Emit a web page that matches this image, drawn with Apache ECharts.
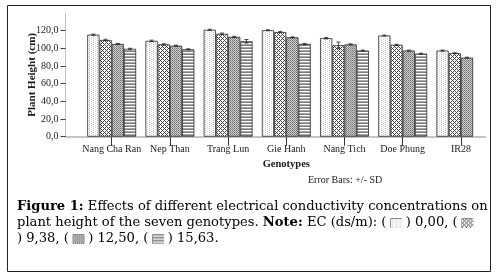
<!DOCTYPE html>
<html><head><meta charset="utf-8">
<script src="https://cdn.jsdelivr.net/npm/echarts@6/dist/echarts.min.js"></script>
<style>html,body{margin:0;padding:0;background:#fff}#c{width:499px;height:276px}</style>
</head><body><div id="c"></div>
<script>
const categories = ['Nang Cha Ran','Nep Than','Trang Lun','Gie Hanh','Nang Tich','Doe Phung','IR28'];
const ec000  = [115.5, 108.5, 121.0, 120.5, 111.5, 114.5, 97.5];
const ec938  = [109.5, 104.5, 116.5, 118.5, 103.5, 104.0, 94.5];
const ec1250 = [105.0, 103.0, 113.0, 112.5, 104.5, 97.5, 89.5];
const ec1563 = [99.5, 99.0, 108.0, 105.0, 97.5, 94.0, null];
const sd000  = [0.6, 0.8, 0.6, 0.5, 0.8, 0.5, 0.5];
const sd938  = [0.8, 0.7, 0.8, 0.7, 3.6, 0.6, 0.5];
const sd1250 = [0.5, 0.6, 0.6, 0.5, 0.6, 0.5, 0.5];
const sd1563 = [0.6, 0.5, 2.0, 0.6, 0.5, 0.5, null];
const seriesNames = ['0,00', '9,38', '12,50', '15,63'];
const yTicks = [0, 20, 40, 60, 80, 100, 120];

function makePattern(w, h, fn) {
  const c = document.createElement('canvas'); c.width = w; c.height = h;
  const ctx = c.getContext('2d');
  for (let y = 0; y < h; y++) for (let x = 0; x < w; x++) {
    ctx.fillStyle = fn(x, y); ctx.fillRect(x, y, 1, 1);
  }
  return c;
}
const pat1 = makePattern(4, 4, (x, y) => (x === 1 && y % 2 === 0) ? '#b8b8b8' : ((x === 3 && y % 2 === 1) ? '#d8d8d8' : '#ffffff'));
const pat2 = makePattern(4, 4, (x, y) => ((x + y) % 4 === 0 || (x - y + 8) % 4 === 0) ? '#444444' : '#ffffff');
const pat3 = makePattern(2, 2, (x, y) => (x === 0 && y === 0) ? '#6e6e6e' : ((x === 1 && y === 1) ? '#8c8c8c' : '#cfcfcf'));
const pat4 = makePattern(1, 3, (x, y) => y === 0 ? '#7d7d7d' : (y === 1 ? '#ffffff' : '#a8a8a8'));
const pats = [pat1, pat2, pat3, pat4];

function makeIcon(p) {
  const c = document.createElement('canvas'); c.width = 11; c.height = 9;
  const ctx = c.getContext('2d');
  ctx.fillStyle = ctx.createPattern(p, 'repeat'); ctx.fillRect(0, 0, 11, 9);
  return c;
}
const icons = pats.map(makeIcon);

const values = [ec000, ec938, ec1250, ec1563];
const sds = [sd000, sd938, sd1250, sd1563];
const GAP = 0.16;

const serif = '"Liberation Serif", "Times New Roman", serif';
const capFont = '"DejaVu Serif", serif';
const chart = echarts.init(document.getElementById('c'), null, {renderer: 'canvas'});

const barSeries = values.map((arr, i) => ({
  type: 'bar', name: seriesNames[i], xAxisIndex: 1, yAxisIndex: 1,
  data: arr, barGap: '0%', barCategoryGap: (GAP * 100) + '%',
  itemStyle: {color: {image: pats[i], repeat: 'repeat'}, borderColor: '#2a2a2a', borderWidth: 0.8},
  silent: true, animation: false
}));

const errData = [];
values.forEach((arr, i) => arr.forEach((v, j) => {
  if (v != null) errData.push([j, v - sds[i][j], v + sds[i][j], i]);
}));

const errSeries = {
  type: 'custom', xAxisIndex: 1, yAxisIndex: 1, data: errData, silent: true, animation: false, z: 10,
  renderItem: function (params, api) {
    const j = api.value(0), lo = api.value(1), hi = api.value(2), i = api.value(3);
    const band = api.size([1, 0])[0];
    const bw = band * (1 - GAP) / 4;
    const c = api.coord([j, lo]);
    const cx = c[0] + (i - 1.5) * bw;
    const yLo = c[1], yHi = api.coord([j, hi])[1];
    const cap = 2;
    const st = {stroke: '#222', lineWidth: 0.8};
    return {type: 'group', children: [
      {type: 'line', shape: {x1: cx, y1: yLo, x2: cx, y2: yHi}, style: st},
      {type: 'line', shape: {x1: cx - cap, y1: yHi, x2: cx + cap, y2: yHi}, style: st},
      {type: 'line', shape: {x1: cx - cap, y1: yLo, x2: cx + cap, y2: yLo}, style: st}
    ]};
  }
};

const txt = '#231f20';
const CF = 13.1;
const rich = {
  n: {fontFamily: capFont, fontSize: CF, color: txt},
  b: {fontFamily: capFont, fontSize: CF, color: txt, fontWeight: 'bold'},
  i1: {width: 11, height: 9, backgroundColor: {image: icons[0]}, borderColor: '#8a8a8a', borderWidth: 1},
  i2: {width: 11, height: 9, backgroundColor: {image: icons[1]}, borderColor: '#8a8a8a', borderWidth: 1},
  i3: {width: 11, height: 9, backgroundColor: {image: icons[2]}, borderColor: '#8a8a8a', borderWidth: 1},
  i4: {width: 11, height: 9, backgroundColor: {image: icons[3]}, borderColor: '#8a8a8a', borderWidth: 1}
};

chart.setOption({
  animation: false,
  backgroundColor: '#fff',
  grid: [
    {left: 65.5, right: 14, top: 13, bottom: 139.3},
    {left: 82.6, right: 9, top: 13, bottom: 139.3}
  ],
  xAxis: [
    {type: 'value', gridIndex: 0, min: 0, max: 1, splitLine: {show: false},
     axisLabel: {show: false}, axisTick: {show: false},
     axisLine: {show: true, lineStyle: {color: '#c4c4c4', width: 2}}},
    {type: 'category', gridIndex: 1, data: categories,
     axisLine: {show: false},
     axisTick: {show: true, alignWithLabel: true, interval: 0, length: 9, lineStyle: {color: '#333', width: 1}},
     axisLabel: {interval: 0, margin: 8, fontFamily: serif, fontSize: 10, color: '#1a1a1a'},
     name: 'Genotypes', nameLocation: 'middle', nameGap: 22, nameMoveOverlap: false,
     nameTextStyle: {fontFamily: serif, fontSize: 10.5, fontWeight: 'bold', color: '#1a1a1a'}}
  ],
  yAxis: [
    {type: 'value', gridIndex: 0, min: 0, max: 140, interval: 20,
     splitLine: {show: false},
     axisLine: {show: true, lineStyle: {color: '#c4c4c4', width: 1}},
     axisTick: {show: true, length: 5, customValues: yTicks, lineStyle: {color: '#444'}},
     axisLabel: {customValues: yTicks, margin: 7, fontFamily: serif, fontSize: 10, color: '#1a1a1a',
       formatter: v => v.toFixed(1).replace('.', ',')},
     name: 'Plant Height (cm)', nameLocation: 'middle', nameGap: 28, nameRotate: 90, nameMoveOverlap: false,
     nameTextStyle: {fontFamily: serif, fontSize: 11, fontWeight: 'bold', color: '#1a1a1a'}},
    {type: 'value', gridIndex: 1, min: 0, max: 140, show: false, splitLine: {show: false}}
  ],
  series: barSeries.concat([errSeries]),
  graphic: [
    {type: 'rect', shape: {x: 7.5, y: 5.5, width: 483, height: 266}, style: {fill: null, stroke: '#222', lineWidth: 1}, silent: true},
    {type: 'text', x: 308, y: 180, style: {text: 'Error Bars: +/- SD', font: '10px ' + serif, fill: '#1a1a1a', verticalAlign: 'middle'}},
    {type: 'text', x: 17, y: 207, style: {text: '{b|Figure 1:}{n| Effects of different electrical conductivity concentrations on}', rich: rich, verticalAlign: 'middle'}},
    {type: 'text', x: 17, y: 223, style: {text: '{n|plant height of the seven genotypes. }{b|Note:}{n| EC (ds/m): ( }{i1|}{n| ) 0,00, ( }{i2|}', rich: rich, verticalAlign: 'middle'}},
    {type: 'text', x: 17, y: 239, style: {text: '{n|) 9,38, ( }{i3|}{n| ) 12,50, ( }{i4|}{n| ) 15,63.}', rich: rich, verticalAlign: 'middle'}}
  ]
});
</script>
</body></html>
